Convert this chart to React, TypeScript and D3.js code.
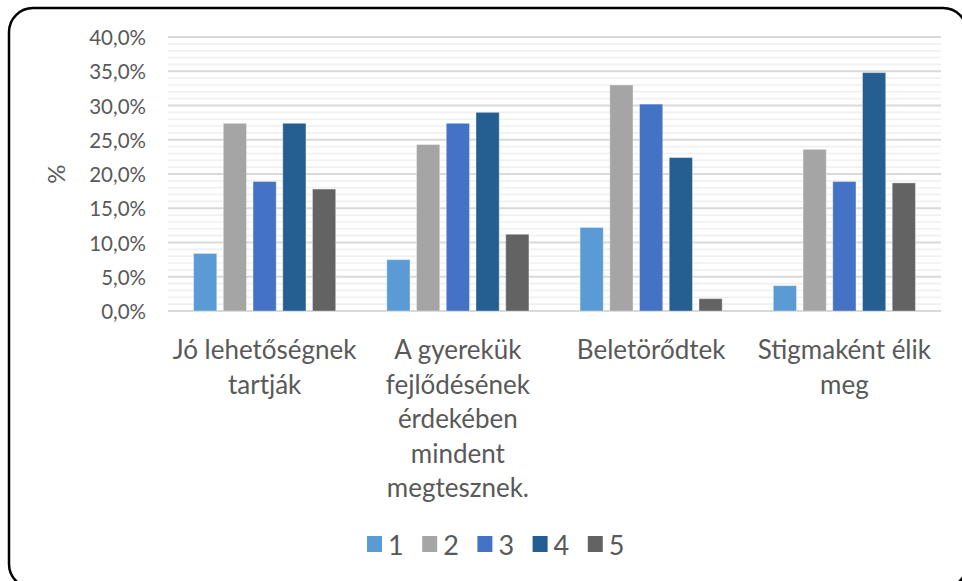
import React from "react";
import * as d3 from "d3";

const categories = [
  "Jó lehetőségnek tartják",
  "A gyerekük fejlődésének érdekében mindent megtesznek.",
  "Beletörődtek",
  "Stigmaként élik meg",
];
const categoryLines = [
  ["Jó lehetőségnek", "tartják"],
  ["A gyerekük", "fejlődésének", "érdekében", "mindent", "megtesznek."],
  ["Beletörődtek"],
  ["Stigmaként élik", "meg"],
];
const seriesNames = ["1", "2", "3", "4", "5"];
const series1 = [8.4, 7.5, 12.2, 3.7];
const series2 = [27.4, 24.3, 33.0, 23.6];
const series3 = [18.9, 27.4, 30.2, 18.9];
const series4 = [27.4, 29.0, 22.4, 34.8];
const series5 = [17.8, 11.2, 1.8, 18.7];
const seriesValues = [series1, series2, series3, series4, series5];
const seriesColors = ["#5B9BD5", "#A5A5A5", "#4472C4", "#255E91", "#636363"];
const yMajorTicks = [0, 5, 10, 15, 20, 25, 30, 35, 40];
const yMinorTicks = d3.range(0, 41, 1);
const yAxisTitle = "%";

const W = 962;
const H = 581;
const FONT = "Lato, 'Open Sans', sans-serif";
const TXT = "#595959";

export default function App() {
  const plotLeft = 168;
  const plotRight = 941;
  const plotTop = 37;
  const plotBottom = 311;

  const y = d3.scaleLinear().domain([0, 40]).range([plotBottom, plotTop]);
  const x0 = d3.scaleBand<string>().domain(categories).range([plotLeft, plotRight]).padding(0);
  const x1 = d3
    .scaleBand<string>()
    .domain(seriesNames)
    .range([0, x0.bandwidth()])
    .paddingInner(0.22)
    .paddingOuter(0.86);

  const fmt = (v: number) => v.toFixed(1).replace(".", ",") + "%";

  return (
    <svg
      width={W}
      height={H}
      style={{ position: "absolute", left: 0, top: 0, background: "#fff" }}
      fontFamily={FONT}
    >
      <rect x={0} y={0} width={W} height={H} fill="#fff" />
      {/* frame */}
      <rect
        x={9}
        y={8}
        width={958}
        height={580}
        rx={24}
        ry={24}
        fill="none"
        stroke="#000"
        strokeWidth={2.5}
      />
      {/* minor gridlines */}
      {yMinorTicks
        .filter((t) => t % 5 !== 0)
        .map((t) => (
          <line
            key={"mi" + t}
            x1={plotLeft}
            x2={plotRight}
            y1={y(t)}
            y2={y(t)}
            stroke="#F0F0F0"
            strokeWidth={1.6}
          />
        ))}
      {/* major gridlines */}
      {yMajorTicks.map((t) => (
        <line
          key={"ma" + t}
          x1={plotLeft}
          x2={plotRight}
          y1={y(t)}
          y2={y(t)}
          stroke="#D9D9D9"
          strokeWidth={1.8}
        />
      ))}
      {/* y tick labels */}
      {yMajorTicks.map((t) => (
        <text
          key={"yl" + t}
          x={146}
          y={y(t)}
          textAnchor="end"
          dominantBaseline="central"
          fontSize={20.5}
          fill={TXT}
        >
          {fmt(t)}
        </text>
      ))}
      {/* y axis title */}
      <text
        transform={`translate(55,${(plotTop + plotBottom) / 2}) rotate(-90)`}
        textAnchor="middle"
        dominantBaseline="central"
        fontSize={24}
        fill={TXT}
      >
        {yAxisTitle}
      </text>
      {/* bars */}
      {categories.map((c, ci) => (
        <g key={c} transform={`translate(${x0(c)},0)`}>
          {seriesNames.map((s, si) => {
            const v = seriesValues[si][ci];
            return (
              <rect
                key={s}
                x={x1(s)}
                y={y(v)}
                width={x1.bandwidth()}
                height={plotBottom - y(v)}
                fill={seriesColors[si]}
                stroke="#ffffff"
                strokeOpacity={0.35}
                strokeWidth={1}
              />
            );
          })}
        </g>
      ))}
      {/* category labels */}
      {categories.map((c, ci) => (
        <text
          key={"cl" + c}
          x={(x0(c) as number) + x0.bandwidth() / 2}
          textAnchor="middle"
          fontSize={26}
          fill={TXT}
        >
          {categoryLines[ci].map((ln, li) => (
            <tspan key={li} x={(x0(c) as number) + x0.bandwidth() / 2} y={349 + li * 34.6} dominantBaseline="central">
              {ln}
            </tspan>
          ))}
        </text>
      ))}
      {/* legend */}
      {seriesNames.map((s, si) => {
        const lx = 367 + si * 55.2;
        return (
          <g key={"lg" + s}>
            <rect x={lx} y={536} width={15} height={16} fill={seriesColors[si]} />
            <text x={lx + 21} y={544} dominantBaseline="central" fontSize={27} fill={TXT}>
              {s}
            </text>
          </g>
        );
      })}
    </svg>
  );
}
